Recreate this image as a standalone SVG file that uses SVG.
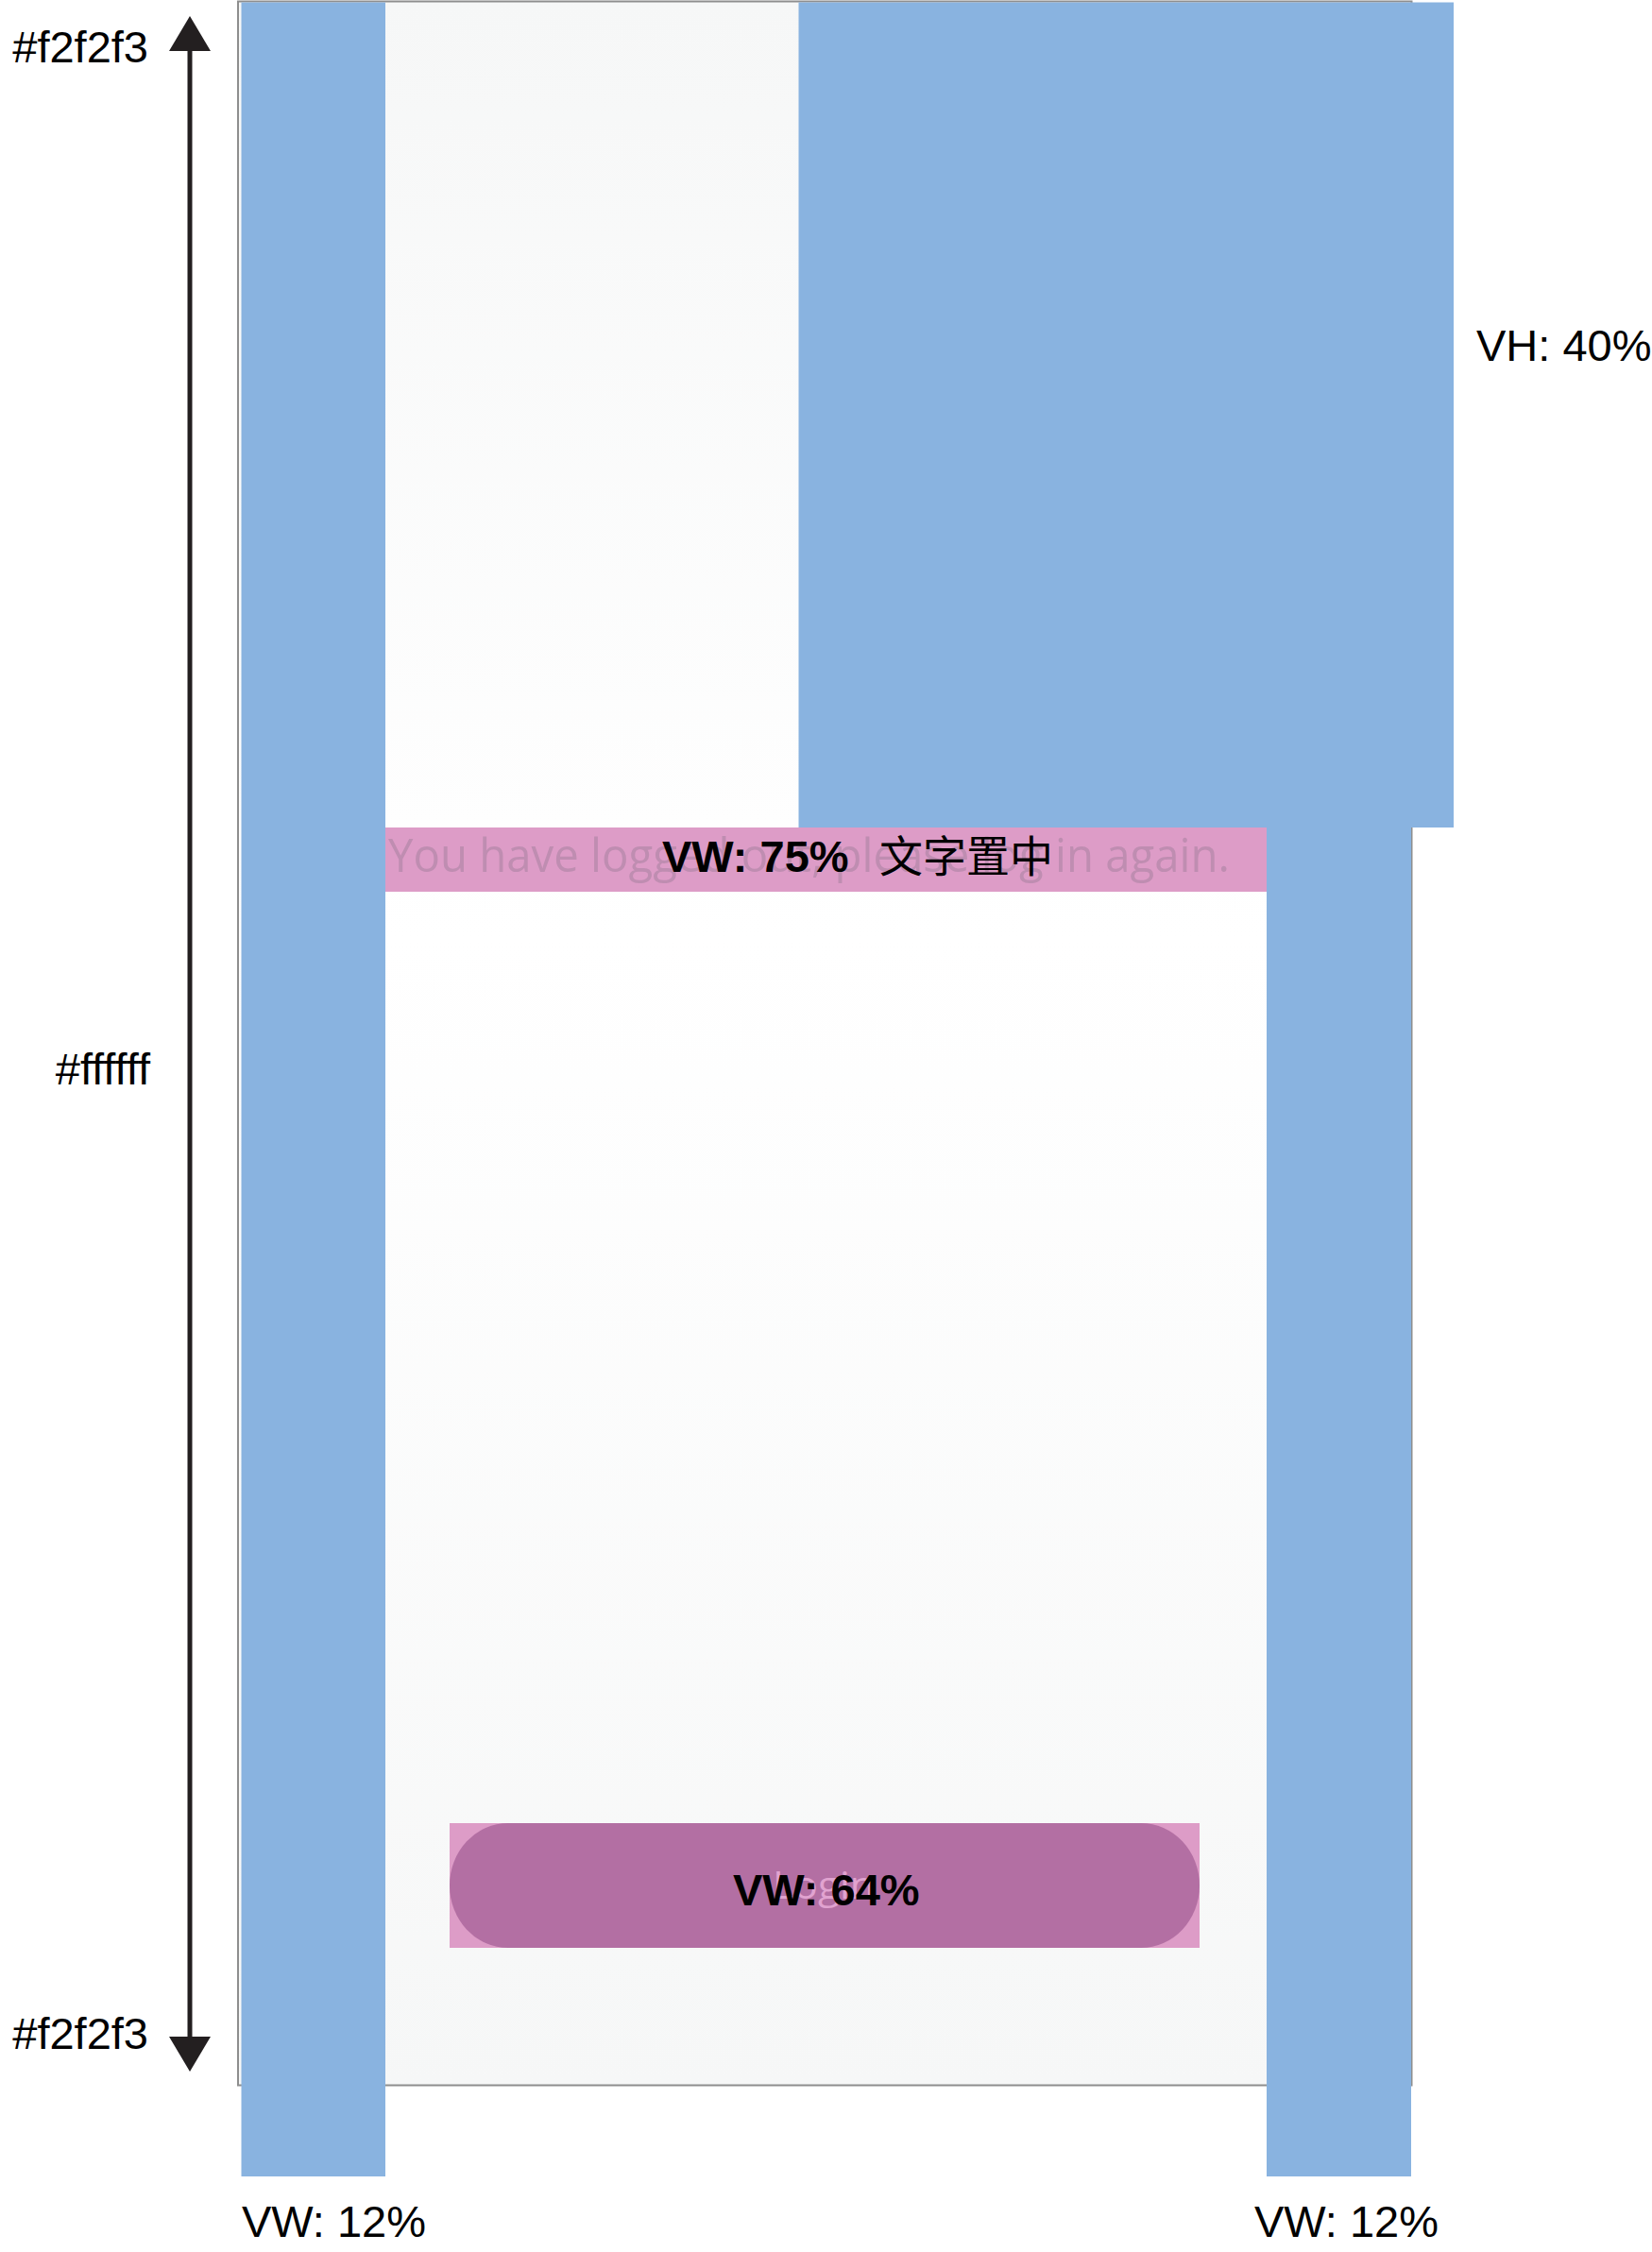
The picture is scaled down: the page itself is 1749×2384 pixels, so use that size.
<svg xmlns="http://www.w3.org/2000/svg" width="1749" height="2384" viewBox="0 0 1749 2384">
<style>
.lbl{font-family:"Liberation Sans",Arial,sans-serif;font-size:47px;fill:#000}
.blue{fill:#89b3e0}
.bold{font-family:"Liberation Sans",Arial,sans-serif;font-size:47px;font-weight:bold;fill:#000}
</style>
<defs>
<linearGradient id="bg" x1="0" y1="0" x2="0" y2="1">
<stop offset="0" stop-color="#f6f7f7"/>
<stop offset="0.45" stop-color="#ffffff"/>
<stop offset="1" stop-color="#f6f7f7"/>
</linearGradient>
<marker id="ah" viewBox="0 0 37 44" refX="0" refY="22" markerWidth="37" markerHeight="44" markerUnits="userSpaceOnUse" orient="auto-start-reverse">
<path d="M0,0 L37,22 L0,44 Z" fill="#231f20"/>
</marker>
</defs>
<rect width="1749" height="2384" fill="#ffffff"/>
<g id="frame">
<rect x="252" y="1.5" width="1242.5" height="2206" fill="url(#bg)" stroke="#8e8e8e" stroke-width="2"/>
</g>
<g id="left-bar"><rect class="blue" x="255.5" y="2.5" width="152.5" height="2301.5"/></g>
<g id="right-bar"><rect class="blue" x="1341" y="876" width="153" height="1428"/></g>
<g id="top-right-block"><rect class="blue" x="845.5" y="2.5" width="693.5" height="873.5"/></g>
<g id="message-band">
<rect x="408" y="876" width="933" height="68" fill="#dd9cc7"/>
<text x="411" y="923" font-family="'Open Sans',sans-serif" font-size="50" fill="#bf8db1" textLength="891" lengthAdjust="spacingAndGlyphs">You have logged out, please log in again.</text>
<text class="bold" x="701" y="923">VW: 75%</text>
<text x="931" y="923" font-family="'Noto Sans CJK SC','Noto Sans CJK TC',sans-serif" font-size="46" fill="#000">文字置中</text>
</g>
<g id="login-button">
<rect x="476" y="1930" width="794" height="132" fill="#dd9cc7"/>
<rect x="476" y="1930" width="794" height="132" rx="62" ry="66" fill="#b36fa3"/>
<text x="818" y="2010" font-family="'Open Sans',sans-serif" font-size="40" fill="#e1a3d0" textLength="108" lengthAdjust="spacingAndGlyphs">Login</text>
<text class="bold" x="776" y="2017">VW: 64%</text>
</g>
<g id="connectors">
<line x1="201" y1="54" x2="201" y2="2156" stroke="#231f20" stroke-width="5" marker-start="url(#ah)" marker-end="url(#ah)"/>
</g>
<g id="labels">
<text class="lbl" x="157" y="66" text-anchor="end">#f2f2f3</text>
<text class="lbl" x="159" y="1148" text-anchor="end">#ffffff</text>
<text class="lbl" x="157" y="2169" text-anchor="end">#f2f2f3</text>
<text class="lbl" x="1563" y="382">VH: 40%</text>
<text class="lbl" x="256" y="2368">VW: 12%</text>
<text class="lbl" x="1328" y="2368">VW: 12%</text>
</g>
</svg>
